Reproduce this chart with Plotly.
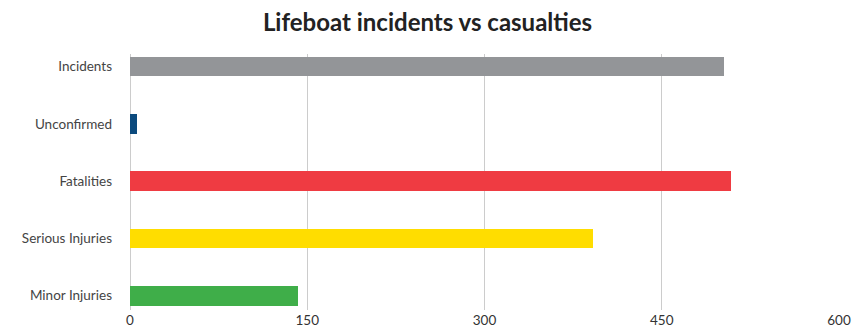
import plotly.graph_objects as go

categories = ["Incidents", "Unconfirmed", "Fatalities", "Serious Injuries", "Minor Injuries"]
values = [503, 6, 509, 392, 142]
colors = ["#939598", "#0b4a7d", "#ef3b42", "#ffdd00", "#3fae49"]
tick_vals = [0, 150, 300, 450, 600]

fig = go.Figure(go.Bar(
    y=categories, x=values, orientation="h",
    marker=dict(color=colors, line=dict(width=0)),
    width=0.344,
))

fig.update_layout(
    width=855, height=328,
    margin=dict(l=130, r=16, t=54, b=18, autoexpand=False),
    paper_bgcolor="white", plot_bgcolor="white",
    font=dict(family="Lato", color="#3a3a3a", size=14),
    title=dict(text="<b>Lifeboat incidents vs casualties</b>", x=0.5, xanchor="center",
               y=0.93, yanchor="middle", font=dict(size=24, color="#222222", family="Lato")),
    showlegend=False,
    bargap=0,
)
fig.update_xaxes(range=[0, 600], tickvals=tick_vals, ticktext=[str(v) for v in tick_vals],
                 showgrid=True, gridcolor="#cccccc", gridwidth=1.3, zeroline=True,
                 zerolinecolor="#cccccc", zerolinewidth=1.3, showline=False, ticks="",
                 automargin=False, tickfont=dict(size=13.5, color="#333333"))
fig.update_yaxes(type="category", categoryorder="array", categoryarray=categories,
                 range=[4.25, -0.22], showgrid=False, ticks="", showline=False,
                 automargin=False, tickfont=dict(size=13.5, color="#444444"), ticklabelstandoff=17)

fig.write_html("out.html")
